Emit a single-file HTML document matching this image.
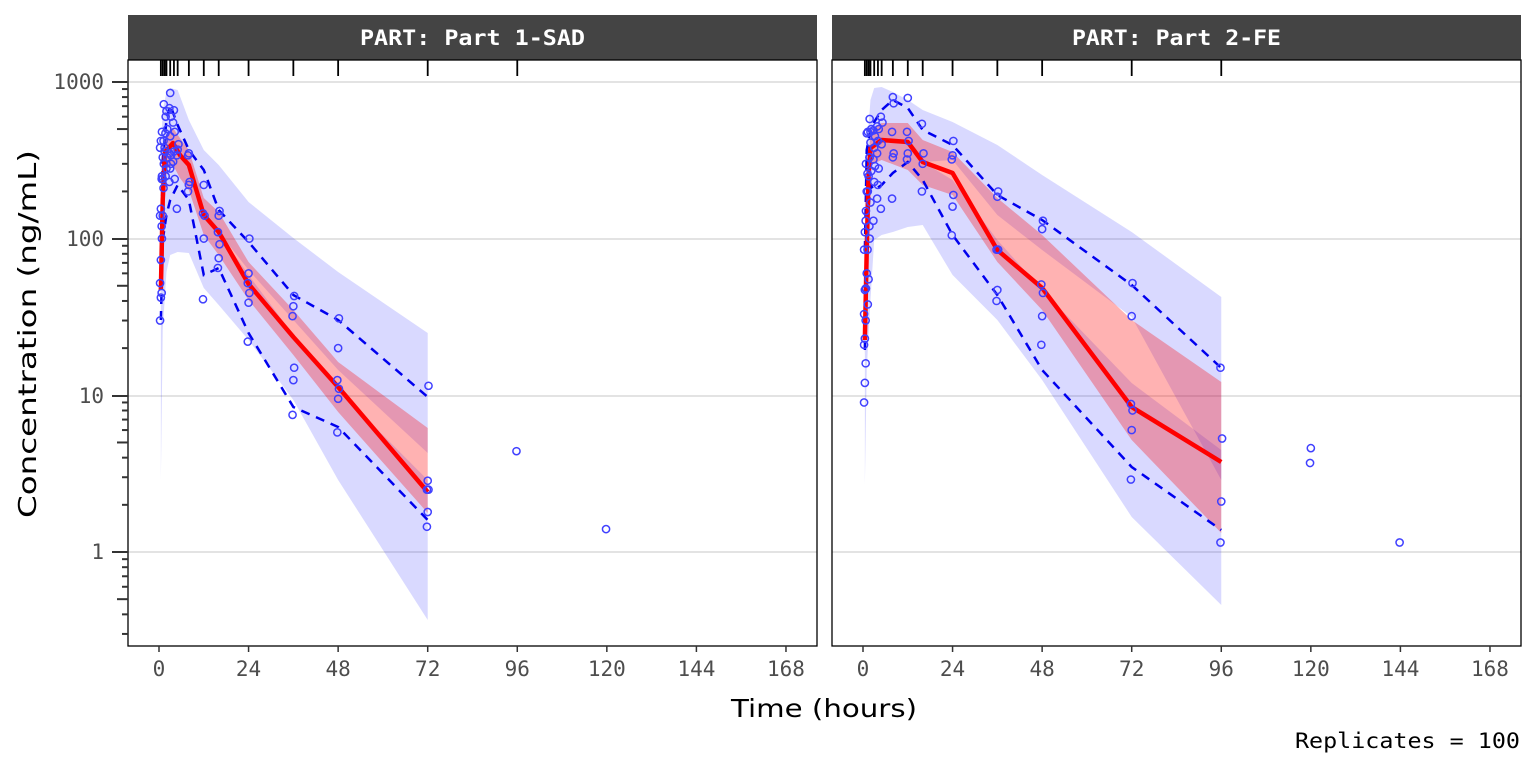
<!DOCTYPE html>
<html><head><meta charset="utf-8"><style>
html,body{margin:0;padding:0;background:#fff;}
svg text{font-family:"DejaVu Sans Mono","Liberation Mono",monospace;}
</style></head><body>
<svg id="s" width="1536" height="768" xmlns="http://www.w3.org/2000/svg"></svg>
<script>
const S=document.getElementById('s');let h='';
const Y=c=>552-156.7*Math.log10(c);
const panels=[
{x0:128,x1:817,t0:159,title:'PART: Part 1-SAD',tl:225,
 band:{t:[0.5,1,2,3,5,8,12,16,24,36,48,72],
  top:[150,110,92,88,90,120,150,165,202,238,272,333],
  ul:[290,200,152,143,155,165,215,232,270,320,370,453],
  lh:[290,200,152,143,155,165,215,232,275,335,390,480],
  bot:[480,330,272,255,252,253,288,305,340,400,480,620]},
 med:{t:[0.5,1,1.6,3.75,5.6,8,12,16,24,36,48,72],y:[290,200,152,143,155,165,215,232,284,337,387,492]},
 red:{t:[0.5,1,1.6,3.75,5.6,8,12,16,24,36,48,72],lo:[280,185,140,128,138,150,198,212,262,310,362,428],hi:[300,215,170,165,178,190,235,255,300,355,412,513]},
 up:{t:[0.5,1,2,3,5,8,12,16,24,36,48,72],y:[260,160,120,105,125,150,170,210,242,295,320,397]},
 lo:{t:[0.5,1,2,3,5,8,12,16,24,36,48,72],y:[320,240,215,200,185,200,275,268,333,407,427,520]},
 rug:[0.5,1,1.5,2,3,4,5,8,12,16,24,36,48,72,96],
 pts:{0.5:[30,42,45,52,73,120,140,155,240,380,420],1:[100,140,210,250,330,420,480,240],1.5:[300,360,470,720,380],2:[250,280,330,600,650,500],3:[230,280,300,350,450,600,680,850,340],4:[310,360,480,550,660,240],5:[155,370,400,340],8:[200,220,230,340,350],12:[41,100,140,145,220],16:[65,75,92,110,140,150],24:[22,39,45,52,60,100],36:[7.5,12.5,15,32,37,43],48:[5.8,9.5,11,12.5,20,31],72:[1.45,1.8,2.5,2.5,2.85,11.5],96:[4.4],120:[1.4]}},
{x0:832,x1:1521,t0:863,title:'PART: Part 2-FE',tl:209,
 band:{t:[0.5,1,2,3,5,8,12,16,24,36,48,72,96],
  top:[200,150,100,88,87,92,100,110,122,145,175,232,297],
  ul:[340,250,148,140,140,142,142,162,160,215,250,317,480],
  lh:[340,250,148,140,140,142,142,162,180,240,290,383,450],
  bot:[485,370,300,240,235,232,227,225,275,320,380,517,605]},
 med:{t:[0.5,1,1.5,2,5,12,16,24,36,48,72,96],y:[340,250,175,148,140,142,162,173,250,288,407,462]},
 red:{t:[0.5,1,1.5,2,5,12,16,24,36,48,72,96],lo:[325,235,160,132,123,123,140,152,198,235,320,382],hi:[355,265,190,165,160,170,185,195,262,310,440,533]},
 up:{t:[0.5,1,2,3,5,8,12,16,24,36,48,72,96],y:[250,150,130,122,110,100,108,130,145,195,220,285,368]},
 lo:{t:[0.5,1,2,3,5,8,12,16,24,36,48,72,96],y:[350,230,185,190,185,173,162,180,235,295,370,467,530]},
 rug:[0.5,1,1.5,2,3,4,5,8,12,16,24,36,48,72,96],
 pts:{0.5:[9,12,16,21,23,30,33,47,48,85,110,130],1:[48,60,85,150,200,260,300,470],1.5:[38,55,120,200,250,330,480],2:[100,170,270,330,410,500,580,480],3:[130,230,290,320,380,450,490],4:[180,220,280,350,420,500,520],5:[155,400,550,600],8:[180,330,350,480,800,730],12:[320,350,420,480,790],16:[200,300,350,540],24:[105,160,190,320,340,420],36:[40,47,85,85,185,200],48:[21,32,45,51,115,130],72:[2.9,6,8,8.8,32,52],96:[1.15,2.1,5.3,15],120:[3.7,4.6],144:[1.15]}}];
const K=3.732;
function poly(p,ts,a,b,fill){const X=t=>p.t0+K*t;let pts=ts.map((t,i)=>X(t)+','+a[i]);for(let i=ts.length-1;i>=0;i--)pts.push(X(ts[i])+','+b[i]);return `<polygon points="${pts.join(' ')}" fill="${fill}"/>`;}
function line(p,ts,ys,st){return `<polyline points="${ts.map((t,i)=>(p.t0+K*t)+','+ys[i]).join(' ')}" fill="none" ${st}/>`;}
panels.forEach(p=>{
 const w=p.x1-p.x0;
 h+=`<rect x="${p.x0}" y="15" width="${w}" height="45" fill="#444"/>`;
 h+=`<text x="${(p.x0+p.x1)/2}" y="45" fill="#fff" font-size="21" font-weight="bold" text-anchor="middle" textLength="${p.tl}" lengthAdjust="spacingAndGlyphs">${p.title}</text>`;
 h+=`<svg x="${p.x0}" y="60" width="${w}" height="586" viewBox="${p.x0} 60 ${w} 586" overflow="hidden">`;
 [82,239,396,552].forEach(y=>h+=`<line x1="${p.x0}" x2="${p.x1}" y1="${y}" y2="${y}" stroke="#e3e3e3" stroke-width="2"/>`);
 const b=p.band;
 h+=poly(p,b.t,b.top,b.ul,'rgba(0,0,255,0.15)');
 h+=poly(p,b.t,b.lh,b.bot,'rgba(0,0,255,0.15)');
 h+=poly(p,p.red.t,p.red.lo,p.red.hi,'rgba(255,0,0,0.3)');
 h+=line(p,p.up.t,p.up.y,'stroke="#0000ee" stroke-width="2.5" stroke-dasharray="9,7"');
 h+=line(p,p.lo.t,p.lo.y,'stroke="#0000ee" stroke-width="2.5" stroke-dasharray="9,7"');
 h+=line(p,p.med.t,p.med.y,'stroke="#ff0000" stroke-width="4.5" stroke-linejoin="round"');
 for(const t in p.pts)p.pts[t].forEach((c,i)=>{h+=`<circle cx="${p.t0+K*t+((i%3)-1)*0.8}" cy="${Y(c)}" r="3.6" fill="none" stroke="#4040ff" stroke-width="1.5"/>`;});
 p.rug.forEach(t=>h+=`<line x1="${p.t0+K*t}" x2="${p.t0+K*t}" y1="60" y2="76" stroke="#000" stroke-width="1.8"/>`);
 h+=`</svg>`;
 h+=`<rect x="${p.x0}" y="60" width="${w}" height="586" fill="none" stroke="#000" stroke-width="1.3"/>`;
 [0,24,48,72,96,120,144,168].forEach(t=>{const x=p.t0+K*t;h+=`<line x1="${x}" x2="${x}" y1="646" y2="652" stroke="#333" stroke-width="1.5"/><text x="${x}" y="676" fill="#4d4d4d" font-size="21" text-anchor="middle">${t}</text>`;});
});
[[1000,82],[100,239],[10,396],[1,552]].forEach(([l,y])=>{h+=`<line x1="112" x2="128" y1="${y}" y2="${y}" stroke="#333" stroke-width="2"/><text x="104" y="${y+7}" fill="#4d4d4d" font-size="21" text-anchor="end">${l}</text>`;});
for(let d=-1;d<3;d++)for(let m=2;m<10;m++){const y=Y(m*Math.pow(10,d));if(y>644)continue;h+=`<line x1="${m==5?117:122}" x2="128" y1="${y}" y2="${y}" stroke="#333" stroke-width="2"/>`;}
h+=`<text transform="translate(36,334) rotate(-90)" style="font-family:'DejaVu Sans','Liberation Sans',sans-serif" font-size="25" text-anchor="middle" fill="#000" textLength="368" lengthAdjust="spacingAndGlyphs">Concentration (ng/mL)</text>`;
h+=`<text x="824" y="717" style="font-family:'DejaVu Sans','Liberation Sans',sans-serif" font-size="25" text-anchor="middle" fill="#000" textLength="186" lengthAdjust="spacingAndGlyphs">Time (hours)</text>`;
h+=`<text x="1520" y="748" font-size="21" text-anchor="end" fill="#000" textLength="225" lengthAdjust="spacingAndGlyphs">Replicates = 100</text>`;
S.innerHTML=h;
</script>
</body></html>
